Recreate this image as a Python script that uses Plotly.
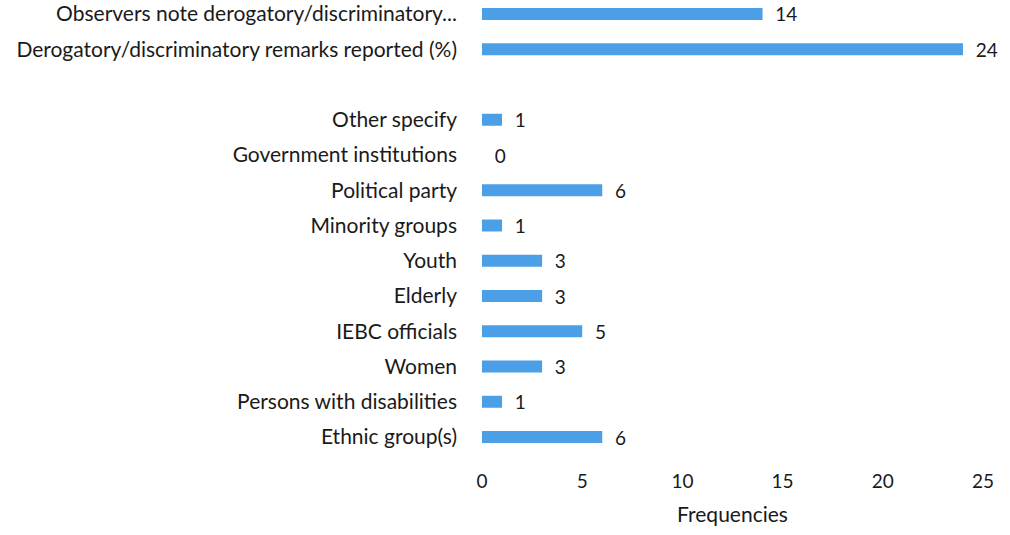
import plotly.graph_objects as go

# categories top to bottom, " " is the blank spacer row
categories = [
    "Observers note derogatory/discriminatory...",
    "Derogatory/discriminatory remarks reported (%)",
    " ",
    "Other specify",
    "Government institutions",
    "Political party",
    "Minority groups",
    "Youth",
    "Elderly",
    "IEBC officials",
    "Women",
    "Persons with disabilities",
    "Ethnic group(s)",
]
frequencies = [14, 24, None, 1, 0, 6, 1, 3, 3, 5, 3, 1, 6]
x_ticks = [0, 5, 10, 15, 20, 25]

# plotly draws categories bottom-up, so reverse
cats = categories[::-1]
vals = frequencies[::-1]
labels = ["" if v is None else "  " + str(v) for v in vals]

font = "Lato, 'Open Sans', sans-serif"

fig = go.Figure()
fig.add_trace(go.Bar(
    x=vals, y=cats, orientation="h",
    marker=dict(color="#4a9fe6", line=dict(width=0)),
    text=labels, textposition="outside", cliponaxis=False,
    constraintext="none", hoverinfo="skip",
    textfont=dict(family=font, size=19, color="#1a1a1a"),
))

fig.update_layout(
    width=1010, height=535,
    margin=dict(l=482, r=27, t=0, b=67),
    paper_bgcolor="white", plot_bgcolor="white",
    bargap=0.66, showlegend=False,
    font=dict(family=font, color="#1a1a1a"),
)
fig.update_xaxes(
    range=[0, 25], tickvals=x_ticks, showgrid=False, zeroline=False,
    showline=False, tickfont=dict(size=19),
    title=dict(text="Frequencies", font=dict(size=21), standoff=16),
)
fig.update_yaxes(
    type="category", categoryorder="array", categoryarray=cats,
    range=[-0.879, 12.397], showgrid=False, showline=False,
    ticks="", ticklabelstandoff=24, tickfont=dict(size=21),
    automargin=False,
)

fig.write_html("out.html", config={"displayModeBar": False},
               post_script="document.body.style.margin='0';")
